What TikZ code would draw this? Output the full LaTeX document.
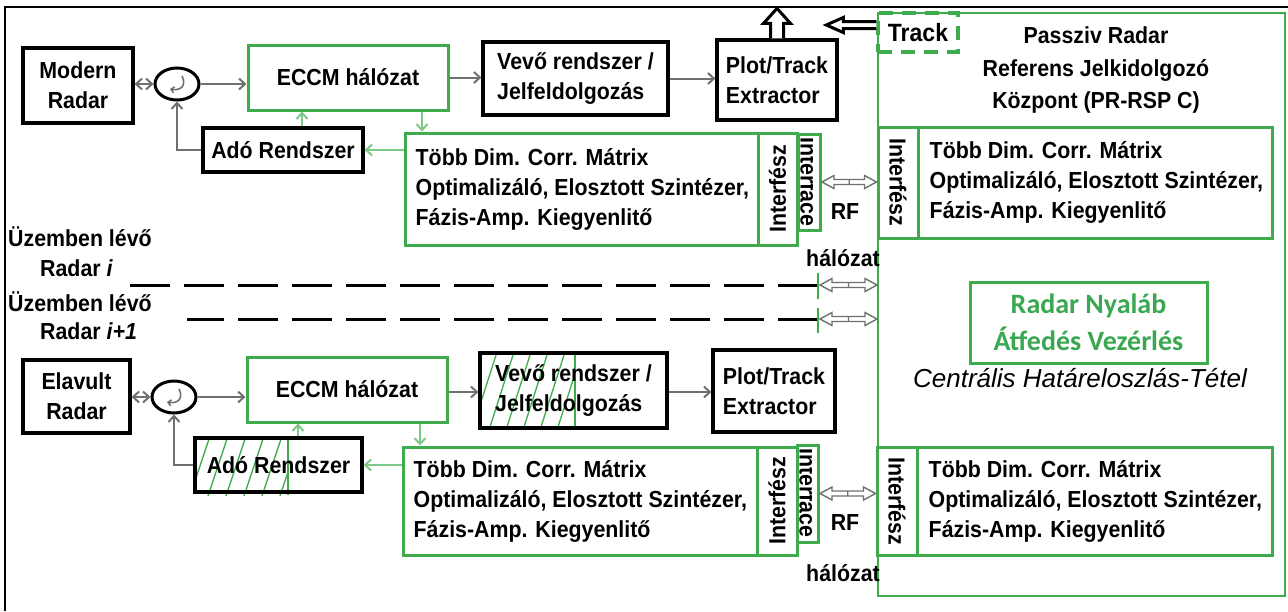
\documentclass[tikz,border=0pt]{standalone}
\usepackage{fontspec}
\setmainfont{Liberation Sans}[FakeStretch=0.92]
\newfontfamily\plainfont{Liberation Sans}
\newfontfamily\calfont{Carlito}
\usetikzlibrary{arrows.meta,calc,shapes.geometric}
\definecolor{gbox}{RGB}{62,172,76}
\definecolor{garr}{RGB}{125,200,135}
\definecolor{darr}{RGB}{112,112,112}
\definecolor{gtext}{RGB}{58,168,82}
\newcommand\hdarrow[2]{%
  \draw[darr, line width=1.4pt, fill=white, line join=miter]
    let \p1=(#1), \p2=(#2) in
    (\x1,\y1) -- (\x1+12pt,\y1+6.5pt) -- (\x1+12pt,\y1+2.5pt) -- (\x2-12pt,\y1+2.5pt)
    -- (\x2-12pt,\y1+6.5pt) -- (\x2,\y1) -- (\x2-12pt,\y1-6.5pt) -- (\x2-12pt,\y1-2.5pt)
    -- (\x1+12pt,\y1-2.5pt) -- (\x1+12pt,\y1-6.5pt) -- cycle
    ({0.5*\x1+0.5*\x2},\y1+2.5pt) -- ({0.5*\x1+0.5*\x2},\y1-2.5pt);}
\begin{document}
\begin{tikzpicture}[x=1pt,y=-1pt,
  txt/.style={font=\fontsize{23.2}{30}\selectfont\bfseries, inner sep=0pt},
  bbox/.style={draw=black, line width=3.2pt, align=center, font=\fontsize{23.2}{30}\selectfont\bfseries, inner sep=0pt},
  gbx/.style={draw=gbox, line width=3pt, align=center, font=\fontsize{23.2}{30}\selectfont\bfseries, inner sep=0pt},
  darrow/.style={draw=darr, line width=2pt, -{Straight Barb[length=6pt,width=11pt]}},
  larrow/.style={draw=garr, line width=2pt, -{Straight Barb[length=6pt,width=11pt]}},
  hatch/.style={draw=gbox, line width=1.3pt},
  blk/.style={draw=black, line width=3pt, fill=white, line join=miter},
  dline/.style={draw=black, line width=3pt, dash pattern=on 40pt off 14pt},
  gtick/.style={draw=gbox, line width=2pt},
  circ/.style={draw=black, line width=3pt, ellipse, minimum width=44, minimum height=32, inner sep=0pt},
]
\useasboundingbox (0,0) rectangle (1288,611);
\draw[line width=1.5pt] (5,611) -- (5,7) -- (1288,7);

% ---------- hatching (bottom section) ----------
\begin{scope}
  \clip (195,438) rectangle (288,495);
  \foreach \i in {0,...,7} \draw[hatch] (172+\i*18,496) -- ++(20,-60);
\end{scope}
\draw[hatch] (288,438) -- (288,495);
\begin{scope}
  \clip (480,353) rectangle (575,428);
  \foreach \i in {0,...,7} \draw[hatch] (455+\i*17,430) -- ++(25,-78);
\end{scope}
\draw[hatch] (575,353) -- (575,428);

% ---------- right: PR-RSP C ----------
\node[draw=gbox, line width=2pt, minimum width=407, minimum height=583, inner sep=0pt] (big) at (1081.5,304.5) {};
\node[draw=gbox, line width=3.5pt, dash pattern=on 14pt off 9pt, minimum width=80, minimum height=39, inner sep=0pt,
      font=\fontsize{25}{28}\selectfont\bfseries] (track) at (918,32.5) {Track};
\node[txt, align=center, font=\fontsize{23.2}{32.5}\selectfont\bfseries] (prt) at (1096,70) {Passziv Radar\\Referens Jelkidolgozó\\Központ (PR-RSP C)};

\node[gbx, minimum width=40, minimum height=111] (pr1s) at (898,182.5) {};
\node[txt, rotate=-90] at (pr1s) {Interfész};
\node[gbx, minimum width=354, minimum height=111] (pr1) at (1095,182.5) {};
\node[txt, anchor=west, align=left] at ($(pr1.west)+(13,0)$) {Több Dim. Corr. Mátrix\\Optimalizáló, Elosztott Szintézer,\\Fázis-Amp. Kiegyenlitő};

\node[draw=gbox, line width=3pt, minimum width=237, minimum height=81, text=gtext, align=center,
      font=\calfont\fontsize{28}{37}\selectfont\bfseries, inner sep=0pt] (nyal) at (1088.5,322.5) {Radar Nyaláb\\Átfedés Vezérlés};
\node[font=\plainfont\fontsize{26}{30}\selectfont\itshape, inner sep=0pt] (cht) at (1080,378) {Centrális Határeloszlás-Tétel};

\node[gbx, minimum width=40, minimum height=108] (pr2s) at (897,501) {};
\node[txt, rotate=-90] at (pr2s) {Interfész};
\node[gbx, minimum width=355, minimum height=108] (pr2) at (1094.5,501) {};
\node[txt, anchor=west, align=left] at ($(pr2.west)+(13,0)$) {Több Dim. Corr. Mátrix\\Optimalizáló, Elosztott Szintézer,\\Fázis-Amp. Kiegyenlitő};

% ---------- top section ----------
\node[bbox, minimum width=110, minimum height=75] (mr) at (78,85.5) {Modern\\Radar};
\node[circ] (c1) at (177,84) {};
\node[gbx, minimum width=200, minimum height=65] (eccm1) at (348,77.5) {ECCM hálózat};
\node[bbox, minimum width=160, minimum height=44] (ado1) at (283,150) {Adó Rendszer};
\node[bbox, minimum width=185, minimum height=73, align=left] (vevo1) at (575.5,78.5) {Vevő rendszer /\\Jelfeldolgozás};
\node[bbox, minimum width=120, minimum height=80, align=left] (plot1) at (777,80) {Plot/Track\\Extractor};
\node[gbx, minimum width=353, minimum height=112] (tobb1) at (581.5,189) {};
\node[txt, anchor=west, align=left] at ($(tobb1.west)+(12,0)$) {Több Dim. Corr. Mátrix\\Optimalizáló, Elosztott Szintézer,\\Fázis-Amp. Kiegyenlitő};
\node[gbx, minimum width=39, minimum height=112] (t1s) at (777.5,189) {};
\node[txt, rotate=90] at (t1s) {Interfész};
\begin{scope}
  \clip (798,134) rectangle (812,230);
  \node[txt, rotate=-90, anchor=base west] at (800.5,137) {Interface};
\end{scope}
\node[gbx, minimum width=22, minimum height=96] (if1) at (809.5,182) {};

\draw[darr, line width=2pt, {Straight Barb[length=6pt,width=11pt]}-{Straight Barb[length=6pt,width=11pt]}] (mr.east |- c1) -- (c1.west);
\draw[darrow] (c1.east) -- (c1.east -| eccm1.west);
\draw[darrow] (eccm1.east) -- (eccm1.east -| vevo1.west);
\draw[darrow] (vevo1.east) -- (vevo1.east -| plot1.west);
\draw[darrow] (ado1.west) -| (c1.south);
\coordinate (a1t) at ($(ado1.north)+(19,0)$);
\draw[larrow] (a1t) -- (a1t |- eccm1.south);
\coordinate (e1b) at ($(eccm1.south)+(74,0)$);
\draw[larrow] (e1b) -- (e1b |- tobb1.north);
\draw[larrow] (tobb1.west |- ado1.east) -- (ado1.east);
\draw[darr, line width=1.6pt, -{Straight Barb[length=3pt,width=6pt]}] ($(c1)+(5,-8)$) .. controls ($(c1)+(10,2)$) and ($(c1)+(3,7)$) .. ($(c1)+(-7,5)$);

% block arrows
\draw[blk] let \p1=(plot1.north) in
  (\x1-6.5pt,\y1) -- (\x1-6.5pt,\y1+15pt) -- (\x1-13.5pt,\y1+15pt) -- (\x1,\y1+30pt)
  -- (\x1+13.5pt,\y1+15pt) -- (\x1+6.5pt,\y1+15pt) -- (\x1+6.5pt,\y1);
\draw[blk] let \p1=($(track.west)+(0,-7.5)$) in
  (\x1,\y1+3.5pt) -- (\x1-33pt,\y1+3.5pt) -- (\x1-33pt,\y1+7.5pt) -- (\x1-50pt,\y1)
  -- (\x1-33pt,\y1-7.5pt) -- (\x1-33pt,\y1-3.5pt) -- (\x1,\y1-3.5pt);

\hdarrow{if1.east}{pr1s.west}
\node[txt] (rf1) at (845,212) {RF};
\node[txt] (hal1) at (843,258) {hálózat};

% ---------- middle: operating radars ----------
\node[txt, anchor=west] (uz1) at (8,237) {Üzemben lévő};
\node[txt, anchor=west] (ri1) at (40,268) {Radar \textit{i}};
\node[txt, anchor=west] (uz2) at (8,302) {Üzemben lévő};
\node[txt, anchor=west] (ri2) at (40,331) {Radar \textit{i+1}};
\coordinate (d1e) at (818,285);
\coordinate (d1s) at (123,285);
\coordinate (d2e) at (818,319);
\coordinate (d2s) at (187,319);
\draw[dline] (d1e) -- (d1s);
\draw[dline] (d2e) -- (d2s);
\draw[gtick] ($(d1e)+(0,-12)$) -- ($(d1e)+(0,14)$);
\draw[gtick] ($(d2e)+(0,-11)$) -- ($(d2e)+(0,14)$);
\coordinate (d1a) at ($(d1e)+(2,0)$);
\coordinate (d2a) at ($(d2e)+(2,0)$);
\hdarrow{d1a}{big.west |- d1a}
\hdarrow{d2a}{big.west |- d2a}

% ---------- bottom section ----------
\node[bbox, minimum width=107, minimum height=73] (er) at (76.5,396.5) {Elavult\\Radar};
\node[circ] (c2) at (174,397) {};
\node[gbx, minimum width=200, minimum height=65] (eccm2) at (347,389.5) {ECCM hálózat};
\node[bbox, minimum width=167, minimum height=54] (ado2) at (278.5,465) {Adó Rendszer};
\node[bbox, minimum width=187, minimum height=75, align=left] (vevo2) at (573.5,390.5) {Vevő rendszer /\\Jelfeldolgozás};
\node[bbox, minimum width=122, minimum height=82, align=left] (plot2) at (774,391) {Plot/Track\\Extractor};
\node[gbx, minimum width=354, minimum height=108] (tobb2) at (580,501) {};
\node[txt, anchor=west, align=left] at ($(tobb2.west)+(12,0)$) {Több Dim. Corr. Mátrix\\Optimalizáló, Elosztott Szintézer,\\Fázis-Amp. Kiegyenlitő};
\node[gbx, minimum width=40, minimum height=108] (t2s) at (777,501) {};
\node[txt, rotate=90] at (t2s) {Interfész};
\begin{scope}
  \clip (797,446) rectangle (811,542);
  \node[txt, rotate=-90, anchor=base west] at (799.5,448) {Interface};
\end{scope}
\node[gbx, minimum width=21, minimum height=97] (if2) at (808,493.5) {};

\draw[darr, line width=2pt, {Straight Barb[length=6pt,width=11pt]}-{Straight Barb[length=6pt,width=11pt]}] (er.east |- c2) -- (c2.west);
\draw[darrow] (c2.east) -- (c2.east -| eccm2.west);
\draw[darrow] (eccm2.east |- 0,392) -- (vevo2.west |- 0,392);
\draw[darrow] (vevo2.east |- 0,392) -- (plot2.west |- 0,392);
\draw[darrow] (ado2.west) -| (c2.south);
\coordinate (a2t) at ($(ado2.north)+(19.5,0)$);
\draw[larrow] (a2t) -- (a2t |- eccm2.south);
\coordinate (e2b) at ($(eccm2.south)+(73,0)$);
\draw[larrow] (e2b) -- (e2b |- tobb2.north);
\draw[larrow] (tobb2.west |- ado2.east) -- (ado2.east);
\draw[darr, line width=1.6pt, -{Straight Barb[length=3pt,width=6pt]}] ($(c2)+(5,-8)$) .. controls ($(c2)+(10,2)$) and ($(c2)+(3,7)$) .. ($(c2)+(-7,5)$);

\hdarrow{if2.east}{pr2s.west}
\node[txt] (rf2) at (845,523) {RF};
\node[txt] (hal2) at (843,573) {hálózat};
\end{tikzpicture}
\end{document}
